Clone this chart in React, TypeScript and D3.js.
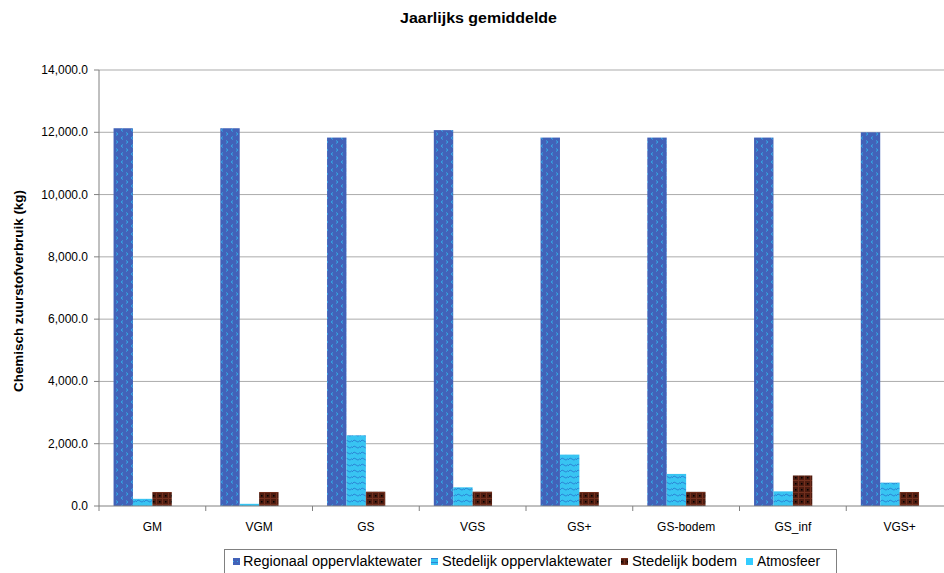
import React from "react";
import * as d3 from "d3";

const categories = ["GM", "VGM", "GS", "VGS", "GS+", "GS-bodem", "GS_inf", "VGS+"];
const seriesNames = ["Regionaal oppervlaktewater", "Stedelijk oppervlaktewater", "Stedelijk bodem", "Atmosfeer"];
const regionaal = [12130, 12130, 11830, 12070, 11830, 11830, 11830, 12000];
const stedelijkOpp = [230, 70, 2270, 600, 1650, 1030, 470, 750];
const stedelijkBodem = [450, 450, 460, 460, 450, 455, 980, 450];
const atmosfeer = [0, 0, 0, 0, 0, 0, 0, 0];
const yTicks = [0, 2000, 4000, 6000, 8000, 10000, 12000, 14000];

const seriesValues = [regionaal, stedelijkOpp, stedelijkBodem, atmosfeer];
const fills = ["url(#pRegio)", "url(#pStedOpp)", "url(#pBodem)", "#33CCFF"];
const legendFills = ["url(#pRegioL)", "url(#pStedOppL)", "url(#pBodem)", "#33CCFF"];

export default function App() {
  const W = 944, H = 573;
  const left = 99, right = 99 + 8 * 106.75, top = 70, bottom = 506;
  const x = d3.scaleBand<string>().domain(categories).range([left, right]).paddingInner(0).paddingOuter(0);
  const xs = d3.scaleBand<number>().domain([0, 1, 2, 3]).range([0, x.bandwidth()]).paddingInner(0).paddingOuter(0.75);
  const y = d3.scaleLinear().domain([0, 14000]).range([bottom, top]);
  const fmt = d3.format(",.1f");
  const font = "Liberation Sans, Arial, sans-serif";

  const legendItems = [
    { mx: 233, tx: 243, len: 179 },
    { mx: 431, tx: 442, len: 170 },
    { mx: 621, tx: 632, len: 105 },
    { mx: 746, tx: 757, len: 63 },
  ];

  return (
    <svg width={W} height={H} style={{ position: "absolute", left: 0, top: 0, background: "#fff" }} fontFamily={font}>
      <defs>
        <pattern id="pRegio" width="10" height="8" patternUnits="userSpaceOnUse">
          <rect width="10" height="8" fill="#4262B8" />
          <path d="M3,0.5 L1,2 L3,3.5" stroke="#33A8E6" strokeWidth="1" fill="none" />
          <path d="M6,4.5 L8,6 L6,7.5" stroke="#33A8E6" strokeWidth="1" fill="none" />
        </pattern>
        <pattern id="pRegioL" width="4" height="4" patternUnits="userSpaceOnUse">
          <rect width="4" height="4" fill="#4262B8" />
          <rect x="1" y="1" width="1" height="1" fill="#33A8E6" />
        </pattern>
        <pattern id="pStedOpp" width="8" height="6" patternUnits="userSpaceOnUse">
          <rect width="8" height="6" fill="#38C4F2" />
          <path d="M0,4 Q2,0.5 4,3 T8,2.5" stroke="#2B86D6" strokeWidth="1" fill="none" />
        </pattern>
        <pattern id="pStedOppL" width="4" height="4" patternUnits="userSpaceOnUse">
          <rect width="4" height="4" fill="#38C4F2" />
          <rect x="0" y="2" width="4" height="1" fill="#2B86D6" />
        </pattern>
        <pattern id="pBodem" width="6" height="6" patternUnits="userSpaceOnUse">
          <rect width="6" height="6" fill="#4E1C10" />
          <rect x="0" y="0" width="6" height="1" fill="#73301E" />
          <rect x="0" y="0" width="1" height="6" fill="#73301E" />
          <rect x="3" y="3" width="1.5" height="1.5" fill="#000" />
        </pattern>
      </defs>

      <text x={400} y={23} fontSize={14.5} fontWeight="bold" textLength={157} lengthAdjust="spacingAndGlyphs">Jaarlijks gemiddelde</text>

      {yTicks.map((t) => (
        <g key={t}>
          {t > 0 && <line x1={left} x2={right} y1={y(t)} y2={y(t)} stroke="#ABABAB" strokeWidth={1} />}
          <line x1={left - 5} x2={left} y1={y(t)} y2={y(t)} stroke="#808080" />
          <text x={88} y={y(t) + 4} textAnchor="end" fontSize={12}>{fmt(t)}</text>
        </g>
      ))}

      {categories.map((c, i) => (
        <g key={c}>
          {seriesValues.map((vals, s) => {
            const v = vals[i];
            if (v <= 0) return null;
            return (
              <rect key={s} x={(x(c) as number) + (xs(s) as number)} y={y(v)} width={xs.bandwidth()} height={y(0) - y(v)} fill={fills[s]} />
            );
          })}
        </g>
      ))}

      <line x1={left} x2={left} y1={top} y2={bottom} stroke="#808080" />
      <line x1={left} x2={right} y1={bottom} y2={bottom} stroke="#808080" />
      {categories.map((c) => (
        <g key={"t" + c}>
          <line x1={(x(c) as number)} x2={(x(c) as number)} y1={bottom} y2={bottom + 5} stroke="#808080" />
          <text x={(x(c) as number) + x.bandwidth() / 2} y={531} textAnchor="middle" fontSize={12}>{c}</text>
        </g>
      ))}

      <text transform={`translate(23,392) rotate(-90)`} fontSize={13} fontWeight="bold" textLength={202} lengthAdjust="spacingAndGlyphs">Chemisch zuurstofverbruik (kg)</text>

      <rect x={224.5} y={549.5} width={612} height={24} fill="#fff" stroke="#808080" />
      {seriesNames.map((n, s) => (
        <g key={n}>
          <rect x={legendItems[s].mx} y={558} width={7} height={7} fill={legendFills[s]} />
          <text x={legendItems[s].tx} y={566} fontSize={14} textLength={legendItems[s].len} lengthAdjust="spacingAndGlyphs">{n}</text>
        </g>
      ))}
    </svg>
  );
}
